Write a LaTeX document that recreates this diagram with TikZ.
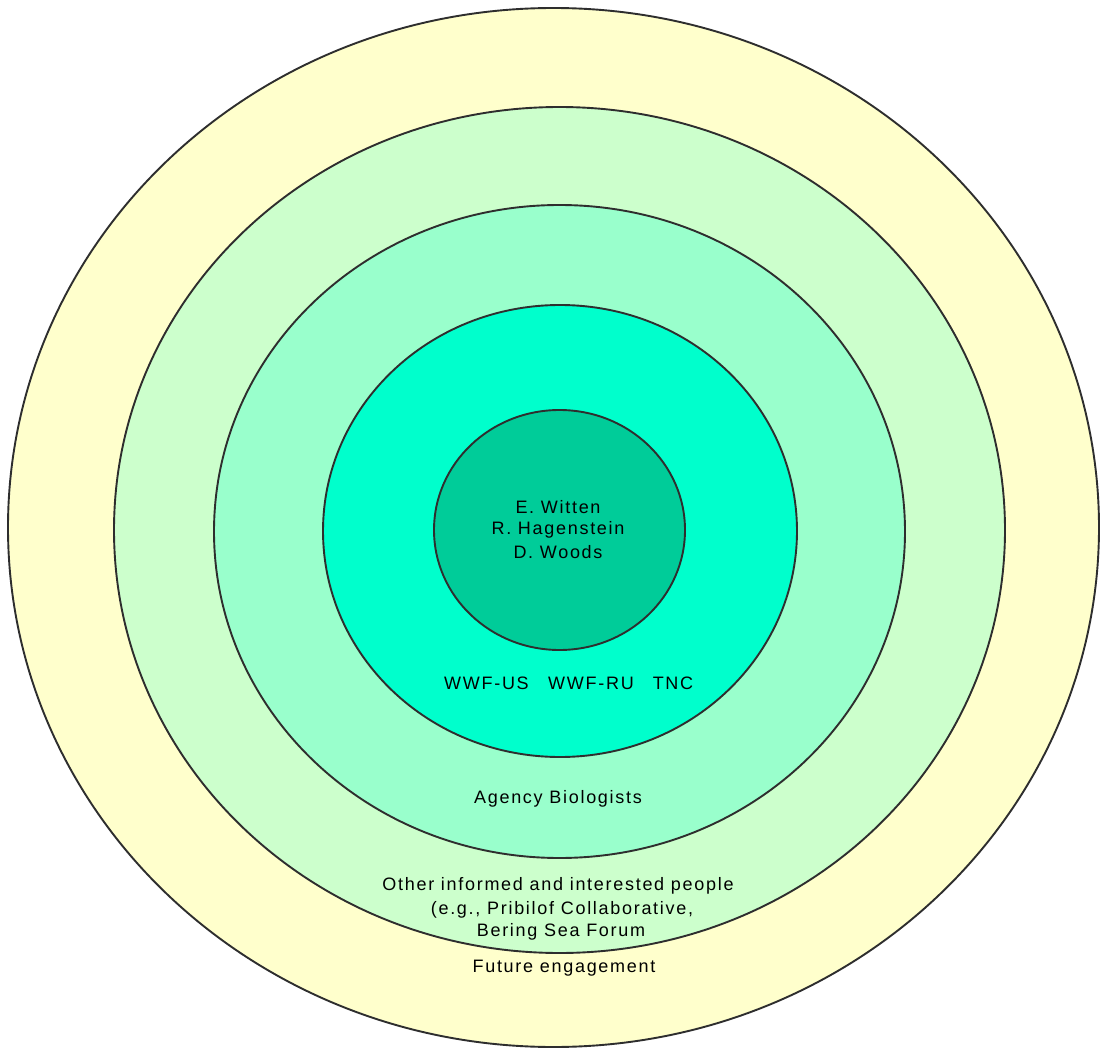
\documentclass[tikz,border=0pt]{standalone}
\usepackage{fontspec}
\setmainfont{Liberation Sans}[LetterSpace=9.5]
\definecolor{ringline}{HTML}{2E2E2E}
\definecolor{cA}{HTML}{FFFFCC}
\definecolor{cB}{HTML}{CCFFCC}
\definecolor{cC}{HTML}{99FFCC}
\definecolor{cD}{HTML}{00FFCC}
\definecolor{cE}{HTML}{00CC99}
\begin{document}
\begin{tikzpicture}[x=1pt,y=-1pt,
  ring/.style={draw=ringline,line width=1.9pt},
  lbl/.style={font=\fontsize{18}{21}\selectfont,text=black,inner sep=0pt,align=center}]
\useasboundingbox (0,0) rectangle (1101,1051);
\fill[white] (0,0) rectangle (1101,1051);
\draw[ring,fill=cA] (553.5,527.5) ellipse [x radius=545.5,y radius=519.5];
\draw[ring,fill=cB] (559.5,530) ellipse [x radius=445.5,y radius=423];
\draw[ring,fill=cC] (559.5,531.5) ellipse [x radius=345.5,y radius=326.5];
\draw[ring,fill=cD] (560,531) ellipse [x radius=237,y radius=226];
\draw[ring,fill=cE] (559.5,530) ellipse [x radius=125.5,y radius=120];
\node[lbl] (n1) at (558,507) {E. Witten};
\node[lbl] (n2) at (558,530) {R. Hagenstein};
\node[lbl] (n3) at (558,552) {D. Woods};
\node[lbl] (w1) at (486.5,683) {WWF-US};
\node[lbl] (w2) at (591,683) {WWF-RU};
\node[lbl] (w3) at (673,683) {TNC};
\node[lbl] (ab) at (558,799) {Agency Biologists};
\node[lbl] (o1) at (558,886) {Other informed and interested people};
\node[lbl] (o2) at (562,910) {(e.g., Pribilof Collaborative,};
\node[lbl] (o3) at (561,932) {Bering Sea Forum};
\node[lbl] (fe) at (564,968) {Future engagement};
\end{tikzpicture}
\end{document}
